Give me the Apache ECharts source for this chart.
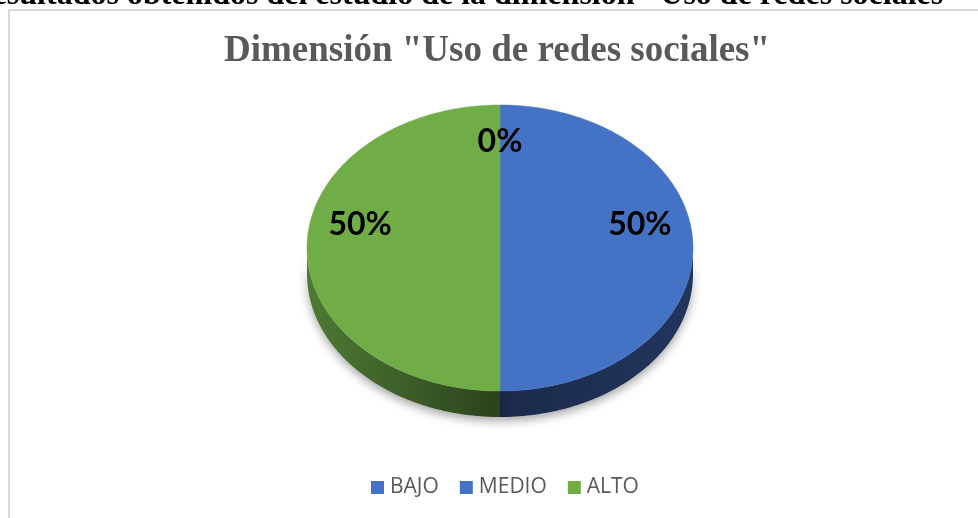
<!DOCTYPE html>
<html>
<head>
<meta charset="utf-8">
<script src="https://cdn.jsdelivr.net/npm/echarts@6/dist/echarts.min.js"></script>
<style>
html,body{margin:0;padding:0;background:#fff;}
#c{width:978px;height:518px;}
</style>
</head>
<body>
<div id="c"></div>
<script>
// ---- data ----
var categories = ['BAJO', 'MEDIO', 'ALTO'];
var values = [0, 50, 50];
var topColors = ['#4472C4', '#4472C4', '#70AD47'];
var sideColors = [['#1B2A4B', '#22355D'], ['#1B2A4B', '#22355D'], ['#4E7A34', '#2C421D']];
var chartTitle = 'Dimensión "Uso de redes sociales"';
var pageHeading = 'Resultados obtenidos del estudio de la dimensión "Uso de redes sociales"';

// ---- layout ----
var CX = 500, CY = 248, RX = 193, RY = 143, DEPTH = 26;
var total = values.reduce(function (a, b) { return a + b; }, 0);

function angleOf(frac) { return -Math.PI / 2 + frac * 2 * Math.PI; }
function pt(a, dy) { return [CX + RX * Math.cos(a), CY + RY * Math.sin(a) + (dy || 0)]; }
function arcPts(a0, a1, dy) {
  var n = Math.max(2, Math.ceil(Math.abs(a1 - a0) / 0.02));
  var out = [];
  for (var k = 0; k <= n; k++) out.push(pt(a0 + (a1 - a0) * k / n, dy));
  return out;
}

function makeRender(idx) {
  return function (params, api) {
    var before = 0;
    for (var j = 0; j < idx; j++) before += values[j];
    var v = api.value(0);
    var a0 = angleOf(before / total), a1 = angleOf((before + v) / total);
    var children = [];
    if (v > 0) {
      var ranges = [[0, Math.PI], [2 * Math.PI, 3 * Math.PI], [-2 * Math.PI, -Math.PI]];
      ranges.forEach(function (r) {
        var s = Math.max(a0, r[0]), e = Math.min(a1, r[1]);
        if (e > s) {
          var top = arcPts(s, e, 0);
          var bot = arcPts(e, s, DEPTH);
          children.push({
            type: 'polygon', z2: 1,
            shape: { points: top.concat(bot) },
            style: {
              fill: new echarts.graphic.LinearGradient(0, 0, 1, 0, [
                { offset: 0, color: sideColors[idx][0] },
                { offset: 1, color: sideColors[idx][1] }
              ]),
              shadowBlur: 10, shadowColor: 'rgba(0,0,0,0.35)', shadowOffsetY: 4
            }
          });
        }
      });
      var pts = [[CX, CY]].concat(arcPts(a0, a1, 0));
      children.push({
        type: 'polygon', z2: 10,
        shape: { points: pts },
        style: { fill: topColors[idx], stroke: topColors[idx], lineWidth: 0.5 }
      });
    }
    var mid = (a0 + a1) / 2;
    var pct = Math.round(v / total * 100) + '%';
    children.push({
      type: 'text', z2: 100,
      style: {
        text: pct,
        x: CX + 0.725 * RX * Math.cos(mid),
        y: CY - 23 + 0.58 * RY * Math.sin(mid),
        align: 'center', verticalAlign: 'middle',
        fontFamily: 'Lato', fontWeight: 'bold', fontSize: 32,
        fill: '#000000'
      }
    });
    return { type: 'group', children: children };
  };
}

var series = categories.map(function (name, i) {
  return {
    type: 'custom',
    name: name,
    coordinateSystem: 'none',
    itemStyle: { color: topColors[i] },
    data: [[values[i]]],
    renderItem: makeRender(i),
    silent: true
  };
});

var chart = echarts.init(document.getElementById('c'), null, { renderer: 'canvas' });
chart.setOption({
  animation: false,
  backgroundColor: '#ffffff',
  legend: {
    data: categories,
    icon: 'rect',
    itemWidth: 13, itemHeight: 13, itemGap: 21,
    left: 371, top: 477, padding: 0,
    selectedMode: false,
    textStyle: { fontFamily: 'Open Sans', fontSize: 21, color: '#595959', padding: [0, 0, 0, 1] }
  },
  graphic: [
    {
      type: 'rect', z: -10,
      shape: { x: 9, y: 10, width: 1100, height: 700 },
      style: { fill: 'none', stroke: '#D9D9D9', lineWidth: 2 }
    },
    {
      type: 'text',
      style: {
        text: pageHeading, x: 961, y: -3.8,
        align: 'right', verticalAlign: 'middle',
        fontFamily: 'Liberation Serif', fontWeight: 'bold', fontSize: 32,
        fill: '#000000'
      }
    },
    {
      type: 'text',
      style: {
        text: chartTitle, x: 497, y: 51,
        align: 'center', verticalAlign: 'middle',
        fontFamily: 'Liberation Serif', fontWeight: 'bold', fontSize: 37,
        fill: '#595959'
      }
    }
  ],
  series: series
});
</script>
</body>
</html>
